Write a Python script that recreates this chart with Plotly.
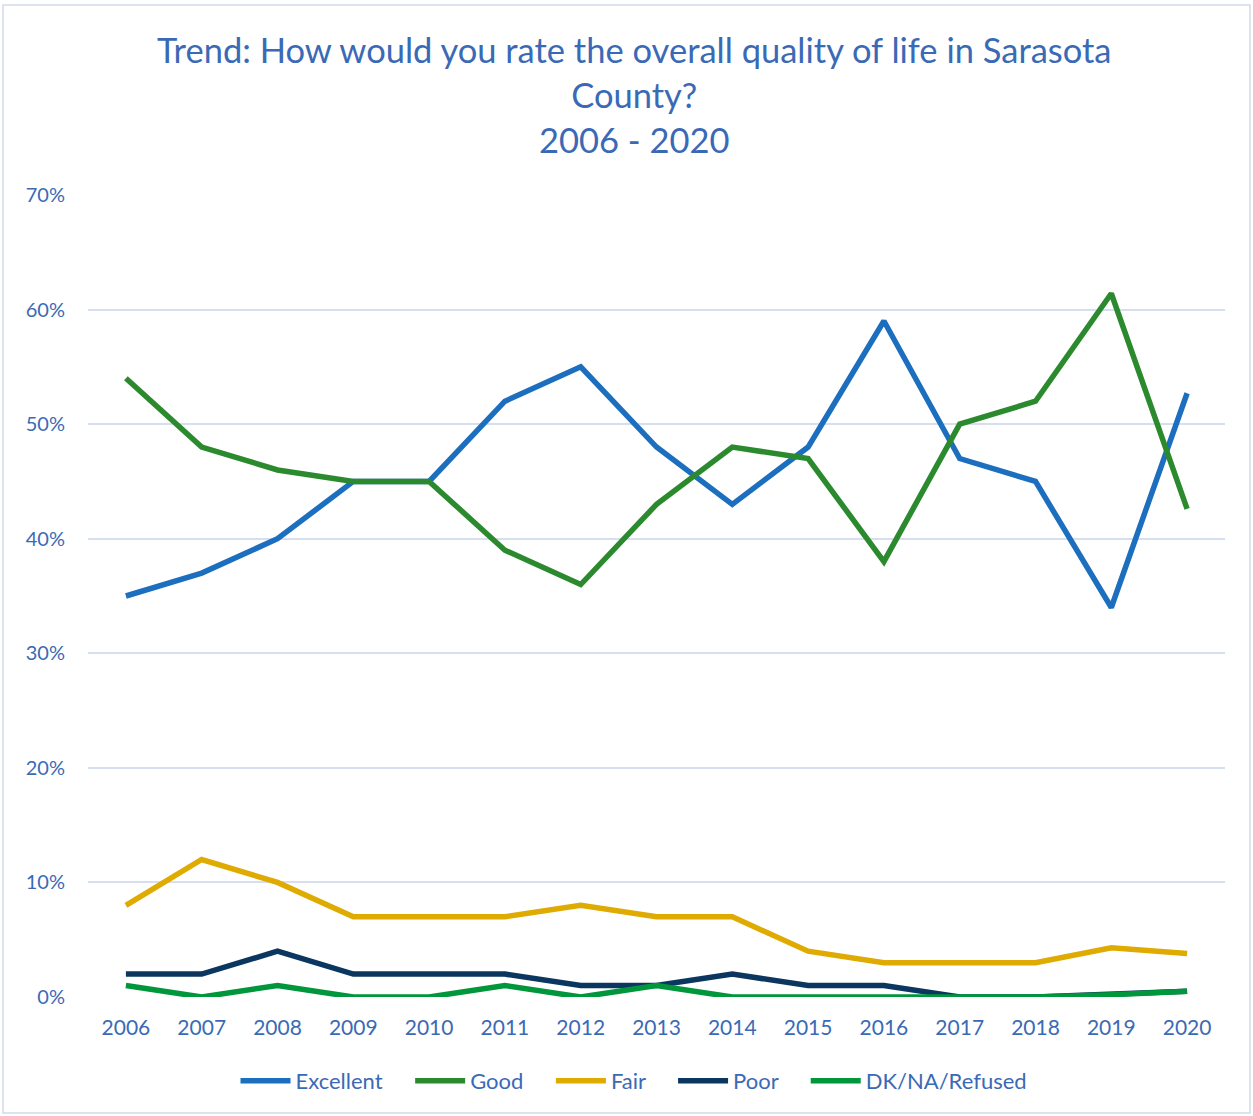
import plotly.graph_objects as go

years = [str(y) for y in range(2006, 2021)]
excellent = [35, 37, 40, 45, 45, 52, 55, 48, 43, 48, 59, 47, 45, 34, 52.7]
good = [54, 48, 46, 45, 45, 39, 36, 43, 48, 47, 38, 50, 52, 61.4, 42.6]
fair = [8, 12, 10, 7, 7, 7, 8, 7, 7, 4, 3, 3, 3, 4.3, 3.8]
poor = [2, 2, 4, 2, 2, 2, 1, 1, 2, 1, 1, 0, 0, 0.3, 0.5]
dk = [1, 0, 1, 0, 0, 1, 0, 1, 0, 0, 0, 0, 0, 0.2, 0.5]

series = [
    ("Excellent", excellent, "#1C6EBE"),
    ("Good", good, "#2C8A2E"),
    ("Fair", fair, "#DFAB00"),
    ("Poor", poor, "#0B365F"),
    ("DK/NA/Refused", dk, "#00963B"),
]

text_color = "#3A6AB6"
font_family = "Lato, 'Open Sans', sans-serif"

W, H = 1253, 1116
L, R, T, B = 88, 28, 195, 119
plot_h = H - T - B


def py(pix):
    return (H - B - pix) / plot_h


fig = go.Figure()
for name, vals, color in series:
    fig.add_trace(go.Scatter(
        x=years, y=[v / 100 for v in vals],
        name=name + ("&nbsp;" * 4 if name != "DK/NA/Refused" else ""),
        mode="lines", line=dict(color=color, width=5.5),
    ))

fig.update_layout(
    width=W, height=H,
    paper_bgcolor="white", plot_bgcolor="white",
    margin=dict(l=L, r=R, t=T, b=B),
    font=dict(family=font_family, size=20, color=text_color),
    showlegend=True,
    legend=dict(
        orientation="h", x=(634 - L) / (W - L - R), xanchor="center",
        y=py(1081), yanchor="middle", itemwidth=50,
        font=dict(family=font_family, size=22, color=text_color),
    ),
    xaxis=dict(
        type="category", range=[-0.5, 14.5], showgrid=False, showline=False,
        zeroline=False, ticks="", ticklabelstandoff=16,
        tickfont=dict(size=21, color=text_color),
    ),
    yaxis=dict(
        range=[0, 0.7], dtick=0.1, tickformat=".0%", showgrid=True,
        gridcolor="#D6DFEF", gridwidth=2, zeroline=False, showline=False,
        ticks="", ticklabelstandoff=22, tickfont=dict(size=20, color=text_color),
    ),
    annotations=[dict(
        text="Trend: How would you rate the overall quality of life in Sarasota<br>County?<br>2006 - 2020",
        xref="paper", yref="paper", x=(634 - L) / (W - L - R), y=py(94),
        xanchor="center", yanchor="middle", showarrow=False,
        font=dict(family=font_family, size=34.5, color=text_color),
    )],
    shapes=[dict(
        type="rect", xref="paper", yref="paper",
        x0=(3 - L) / (W - L - R), x1=(1250 - L) / (W - L - R),
        y0=py(1113), y1=py(5),
        line=dict(color="#D0DAEA", width=1.5), fillcolor="rgba(0,0,0,0)", layer="below",
    )],
)

fig.write_html("out.html", config={"displayModeBar": False},
               post_script="document.body.style.margin='0';")
